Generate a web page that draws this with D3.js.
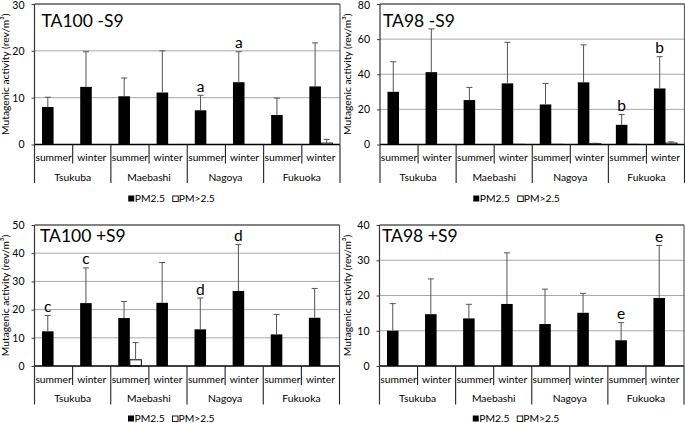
<!DOCTYPE html>
<html><head><meta charset="utf-8">
<script src="https://cdn.jsdelivr.net/npm/d3@7/dist/d3.min.js"></script>
<style>body{margin:0;background:#fff}svg{display:block;font-family:Lato,"Liberation Sans",sans-serif}</style>
</head><body>
<svg id="c" width="685" height="423"></svg>
<script>
// ---------- data ----------
const cities = ["Tsukuba", "Maebashi", "Nagoya", "Fukuoka"];
const seasons = ["summer", "winter"];
const seriesNames = ["PM2.5", "PM>2.5"];

// TA100 -S9
const ta100mS9_pm25    = [8.0, 12.3, 10.3, 11.1, 7.3, 13.3, 6.3, 12.4];
const ta100mS9_pm25Sd  = [2.1, 7.5, 3.9, 8.9, 3.2, 6.5, 3.6, 9.3];
const ta100mS9_coarse  = [0, 0, 0, 0, 0, 0, 0, 0.3];
const ta100mS9_coarseSd= [0, 0, 0, 0, 0, 0, 0, 0.8];
const ta100mS9_letters = ["", "", "", "", "a", "a", "", ""];
const ta100mS9_ticks   = [0, 10, 20, 30];

// TA98 -S9
const ta98mS9_pm25     = [30.0, 41.2, 25.3, 34.8, 22.8, 35.4, 11.2, 31.9];
const ta98mS9_pm25Sd   = [17.1, 24.6, 7.2, 23.4, 12.0, 21.3, 5.9, 18.1];
const ta98mS9_coarse   = [0, 0, 0, 0.1, 0.1, 0.4, 0.1, 0.8];
const ta98mS9_coarseSd = [0, 0, 0, 0, 0, 0.3, 0, 0.7];
const ta98mS9_letters  = ["", "", "", "", "", "", "b", "b"];
const ta98mS9_ticks    = [0, 20, 40, 60, 80];

// TA100 +S9
const ta100pS9_pm25    = [12.3, 22.3, 17.0, 22.4, 13.0, 26.6, 11.2, 17.1];
const ta100pS9_pm25Sd  = [5.6, 12.5, 5.9, 14.3, 11.1, 16.5, 7.1, 10.4];
const ta100pS9_coarse  = [0, 0, 2.2, 0, 0, 0, 0, 0];
const ta100pS9_coarseSd= [0, 0, 6.1, 0, 0, 0, 0, 0];
const ta100pS9_letters = ["c", "c", "", "", "d", "d", "", ""];
const ta100pS9_ticks   = [0, 10, 20, 30, 40, 50];

// TA98 +S9
const ta98pS9_pm25     = [10.0, 14.7, 13.5, 17.6, 11.9, 15.1, 7.3, 19.3];
const ta98pS9_pm25Sd   = [7.7, 10.0, 4.0, 14.5, 9.9, 5.5, 5.0, 14.9];
const ta98pS9_coarse   = [0, 0, 0, 0, 0, 0, 0, 0];
const ta98pS9_coarseSd = [0, 0, 0, 0, 0, 0, 0, 0];
const ta98pS9_letters  = ["", "", "", "", "", "", "e", "e"];
const ta98pS9_ticks    = [0, 10, 20, 30, 40];

const yTitle = "Mutagenic activity (rev/m³)";

// ---------- layout ----------
const panels = [
  {title:"TA100 -S9", pm:ta100mS9_pm25, pmSd:ta100mS9_pm25Sd, co:ta100mS9_coarse, coSd:ta100mS9_coarseSd, letters:ta100mS9_letters, ticks:ta100mS9_ticks,
   x0:34.5, x1:340, yTop:4, yZero:144.5, titleX:41.5, titleY:27, axTitleX:6, legendY:202},
  {title:"TA98 -S9", pm:ta98mS9_pm25, pmSd:ta98mS9_pm25Sd, co:ta98mS9_coarse, coSd:ta98mS9_coarseSd, letters:ta98mS9_letters, ticks:ta98mS9_ticks,
   x0:380, x1:684.5, yTop:4, yZero:144.5, titleX:383, titleY:27, axTitleX:348, legendY:202},
  {title:"TA100 +S9", pm:ta100pS9_pm25, pmSd:ta100pS9_pm25Sd, co:ta100pS9_coarse, coSd:ta100pS9_coarseSd, letters:ta100pS9_letters, ticks:ta100pS9_ticks,
   x0:34.5, x1:339.5, yTop:225, yZero:366, titleX:40, titleY:242, axTitleX:6, legendY:422},
  {title:"TA98 +S9", pm:ta98pS9_pm25, pmSd:ta98pS9_pm25Sd, co:ta98pS9_coarse, coSd:ta98pS9_coarseSd, letters:ta98pS9_letters, ticks:ta98pS9_ticks,
   x0:379.5, x1:684, yTop:225, yZero:366, titleX:382, titleY:242, axTitleX:348, legendY:422}
];

const svg = d3.select("#c");
const groups = [];
cities.forEach(c => seasons.forEach(s => groups.push(c + "|" + s)));

panels.forEach(p => {
  const g = svg.append("g");
  const x = d3.scaleBand().domain(groups).range([p.x0, p.x1]).paddingInner(0).paddingOuter(0);
  const xCity = d3.scaleBand().domain(cities).range([p.x0, p.x1]);
  const xs = d3.scaleBand().domain(seriesNames).range([0, x.bandwidth()]).paddingInner(0).paddingOuter(0.65);
  const ymax = d3.max(p.ticks);
  const y = d3.scaleLinear().domain([0, ymax]).range([p.yZero, p.yTop]);

  // gridlines
  g.selectAll(".grid").data(p.ticks.filter(t => t > 0 && t < ymax)).join("line")
    .attr("x1", p.x0).attr("x2", p.x1).attr("y1", d => y(d)).attr("y2", d => y(d))
    .attr("stroke", "#a8a8a8").attr("stroke-width", 1);
  // frame top
  g.append("line").attr("x1", p.x0).attr("x2", p.x1).attr("y1", y(ymax)).attr("y2", y(ymax)).attr("stroke", "#5a5a5a").attr("stroke-width", 1.3);

  // y axis
  const yAxis = d3.axisLeft(y).tickValues(p.ticks).tickSize(3).tickPadding(7).tickFormat(d3.format("d"));
  const ya = g.append("g").attr("transform", `translate(${p.x0},0)`).call(yAxis);
  ya.select(".domain").remove();
  ya.selectAll("line").attr("stroke", "#444");
  ya.selectAll("text").attr("font-family", "Lato, sans-serif").attr("font-size", 10.5).attr("fill", "#000")
    .attr("dy", d => (d === ymax && p.yTop < 10) ? "0.45em" : "0.32em");

  // bars PM2.5
  const data = groups.map((k, i) => ({k, i, pm:p.pm[i], pmSd:p.pmSd[i], co:p.co[i], coSd:p.coSd[i], letter:p.letters[i]}));
  g.selectAll(".b1").data(data).join("rect")
    .attr("x", d => x(d.k) + xs("PM2.5")).attr("width", xs.bandwidth())
    .attr("y", d => y(d.pm)).attr("height", d => y(0) - y(d.pm))
    .attr("fill", "#000");
  g.selectAll(".b2").data(data.filter(d => d.co > 0)).join("rect")
    .attr("x", d => x(d.k) + xs("PM>2.5")).attr("width", xs.bandwidth())
    .attr("y", d => y(d.co)).attr("height", d => y(0) - y(d.co))
    .attr("fill", "#fff").attr("stroke", "#000").attr("stroke-width", 1);

  // error bars
  const errs = [];
  data.forEach(d => {
    if (d.pmSd > 0) errs.push({cx: x(d.k) + xs("PM2.5") + xs.bandwidth()/2, v: d.pm, sd: d.pmSd});
    if (d.coSd > 0) errs.push({cx: x(d.k) + xs("PM>2.5") + xs.bandwidth()/2, v: d.co, sd: d.coSd});
  });
  g.selectAll(".ev").data(errs).join("line")
    .attr("x1", d => d.cx).attr("x2", d => d.cx).attr("y1", d => y(d.v)).attr("y2", d => y(d.v + d.sd))
    .attr("stroke", "#555").attr("stroke-width", 1);
  g.selectAll(".ec").data(errs).join("line")
    .attr("x1", d => d.cx - 3).attr("x2", d => d.cx + 3).attr("y1", d => y(d.v + d.sd)).attr("y2", d => y(d.v + d.sd))
    .attr("stroke", "#555").attr("stroke-width", 1);

  // letters
  g.selectAll(".lt").data(data.filter(d => d.letter)).join("text")
    .attr("x", d => x(d.k) + xs("PM2.5") + xs.bandwidth()/2)
    .attr("y", d => y(d.pm + d.pmSd) - 3.5)
    .attr("text-anchor", "middle").attr("font-size", 15.5).text(d => d.letter);

  // zero line
  g.append("line").attr("x1", p.x0).attr("x2", p.x1).attr("y1", y(0)).attr("y2", y(0)).attr("stroke", "#000").attr("stroke-width", 1.3);
  // left axis line and right frame
  g.append("line").attr("x1", p.x0).attr("x2", p.x0).attr("y1", y(ymax)).attr("y2", p.yZero + 38.5).attr("stroke", "#333").attr("stroke-width", 1.2);
  g.append("line").attr("x1", p.x1).attr("x2", p.x1).attr("y1", y(ymax)).attr("y2", p.yZero).attr("stroke", "#5a5a5a").attr("stroke-width", 1.2);

  // category separators
  const cityEdges = cities.map(c => xCity(c)).concat([p.x1]);
  g.selectAll(".cs").data(cityEdges.slice(1)).join("line")
    .attr("x1", d => d).attr("x2", d => d).attr("y1", p.yZero).attr("y2", p.yZero + 38.5)
    .attr("stroke", "#222").attr("stroke-width", 1.1);
  g.selectAll(".ss").data(cities).join("line")
    .attr("x1", c => x(c + "|winter")).attr("x2", c => x(c + "|winter")).attr("y1", p.yZero).attr("y2", p.yZero + 19)
    .attr("stroke", "#222").attr("stroke-width", 1.1);

  // category labels
  g.selectAll(".sl").data(groups).join("text")
    .attr("x", d => x(d) + x.bandwidth()/2).attr("y", p.yZero + 16.5)
    .attr("text-anchor", "middle").attr("font-size", 10.3).text(d => d.split("|")[1]);
  g.selectAll(".cl").data(cities).join("text")
    .attr("x", c => xCity(c) + xCity.bandwidth()/2).attr("y", p.yZero + 36)
    .attr("text-anchor", "middle").attr("font-size", 10.3).text(c => c);

  // title
  g.append("text").attr("x", p.titleX).attr("y", p.titleY).attr("font-size", 17.5).text(p.title);

  // y axis title
  g.append("text").attr("transform", `translate(${p.axTitleX + 3},${(p.yTop + p.yZero)/2}) rotate(-90)`)
    .attr("text-anchor", "middle").attr("font-size", 10.3).text(yTitle);

  // legend
  const lc = (p.x0 + p.x1) / 2 - 18;
  const lg = g.append("g").attr("transform", `translate(${lc},${p.legendY})`);
  lg.append("rect").attr("x", -41).attr("y", -6.5).attr("width", 6).attr("height", 6).attr("fill", "#000");
  lg.append("text").attr("x", -34.5).attr("y", 0).attr("font-size", 10.3).text(seriesNames[0]);
  lg.append("rect").attr("x", 3.5).attr("y", -6).attr("width", 5.5).attr("height", 5.5).attr("fill", "#fff").attr("stroke", "#000").attr("stroke-width", 0.9);
  lg.append("text").attr("x", 9.5).attr("y", 0).attr("font-size", 10.3).text(seriesNames[1]);
});
</script>
</body></html>
